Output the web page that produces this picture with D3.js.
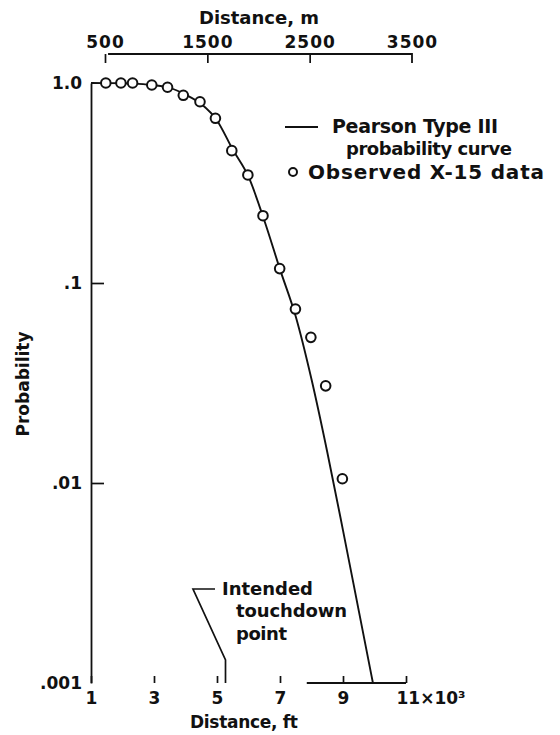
<!DOCTYPE html>
<html>
<head>
<meta charset="utf-8">
<script src="https://cdn.jsdelivr.net/npm/d3@7"></script>
<style>
  body { margin: 0; background: #fff; }
  svg text { font-family: "DejaVu Sans", sans-serif; font-weight: bold; fill: #111; }
</style>
</head>
<body>
<div id="chart"></div>
<script>
// observed X-15 touchdown data (distance in thousands of ft, probability)
const obsDistFt = [1.47, 1.95, 2.32, 2.93, 3.43, 3.93, 4.46, 4.95, 5.47, 5.98, 6.46, 6.99, 7.49, 7.98, 8.45, 8.98];
const obsProb = [1.0, 1.0, 1.0, 0.977, 0.952, 0.868, 0.806, 0.666, 0.459, 0.347, 0.217, 0.118, 0.0741, 0.0535, 0.0306, 0.0105];

// Pearson Type III curve
const curveDistFt = [1.0, 1.5, 2.0, 2.5, 3.0, 3.5, 4.0, 4.5, 5.0, 5.5, 6.0, 6.5, 7.0, 7.5, 8.0, 8.5, 9.0, 9.5, 9.95];
const curveProb = [1.0, 0.999, 0.997, 0.99, 0.975, 0.945, 0.875, 0.785, 0.65, 0.465, 0.34, 0.206, 0.117, 0.068, 0.033, 0.0143, 0.0058, 0.0023, 0.001];

const ftTicks = [1, 3, 5, 7, 9, 11];
const mTicks = [500, 1500, 2500, 3500];
const probTicks = [1, 0.1, 0.01, 0.001];
const probTickLabels = ["1.0", ".1", ".01", ".001"];
const touchdownFt = 5.27;

const width = 560, height = 735;

const svg = d3.select("#chart").append("svg")
  .attr("width", width)
  .attr("height", height);

const x = d3.scaleLinear().domain([1, 11]).range([91, 406]);
const xm = d3.scaleLinear().domain([500, 3500]).range([105, 412]);
const y = d3.scaleLog().domain([0.001, 1]).range([683, 83]);

const ink = "#111";

// label helper: only the letter spacing is stretched to the original's width
const label = (g, tx, ty, str, size, len) =>
  g.append("text").attr("x", tx).attr("y", ty).attr("font-size", size)
    .attr("textLength", len).attr("lengthAdjust", "spacing").text(str);

// bottom axis (ft)
const axisFt = svg.append("g")
  .attr("transform", `translate(0,${y(0.001)})`)
  .call(d3.axisBottom(x).tickValues(ftTicks).tickSizeInner(-7).tickSizeOuter(0).tickPadding(9)
    .tickFormat(d => d === 11 ? "11×10³" : d));
axisFt.select(".domain").remove();
axisFt.selectAll(".tick line").attr("stroke", ink).attr("stroke-width", 1.7);
axisFt.selectAll(".tick text").attr("font-size", 17).attr("fill", ink);
axisFt.selectAll(".tick text").filter(d => d === 11).attr("text-anchor", "start").attr("dx", -10);
// visible part of the baseline
axisFt.append("path")
  .attr("d", `M${x(7.85)},0H${x(11)}`)
  .attr("stroke", ink).attr("stroke-width", 1.8).attr("fill", "none");

// top axis (m)
const axisM = svg.append("g")
  .attr("transform", "translate(0,54)")
  .call(d3.axisTop(xm).tickValues(mTicks).tickSizeInner(-9).tickSizeOuter(-9).tickPadding(6)
    .tickFormat(d3.format("d")));
axisM.select(".domain").attr("stroke", ink).attr("stroke-width", 1.8)
  .attr("d", `M${xm(530)},0H${xm(3500)}V9`);
axisM.selectAll(".tick line").attr("stroke", ink).attr("stroke-width", 1.7)
  .filter(d => d === 3500).remove();
axisM.selectAll(".tick text").attr("font-size", 17).attr("fill", ink).attr("letter-spacing", 1);

// left axis (probability)
const axisP = svg.append("g")
  .attr("transform", `translate(${x(1)},0)`)
  .call(d3.axisLeft(y).tickValues(probTicks).tickSizeInner(-13).tickSizeOuter(0).tickPadding(9)
    .tickFormat((d, i) => probTickLabels[i]));
axisP.select(".domain").attr("stroke", ink).attr("stroke-width", 1.8);
axisP.selectAll(".tick line").attr("stroke", ink).attr("stroke-width", 1.7)
  .filter(d => d === 1 || d === 0.001).remove();
axisP.selectAll(".tick text").attr("font-size", 17).attr("fill", ink);

// axis titles
label(svg, 199, 24, "Distance, m", 18, 120);
label(svg, 190, 728, "Distance, ft", 17, 108);
svg.append("text").attr("transform", "translate(29,384) rotate(-90)")
  .attr("text-anchor", "middle").attr("font-size", 17).text("Probability");

// curve
const curveData = curveDistFt.map((d, i) => [d, curveProb[i]]);
svg.append("path")
  .datum(curveData)
  .attr("fill", "none")
  .attr("stroke", ink)
  .attr("stroke-width", 1.9)
  .attr("d", d3.line().x(d => x(d[0])).y(d => y(d[1])).curve(d3.curveMonotoneX));

// observed points
svg.selectAll("circle.obs")
  .data(obsDistFt.map((d, i) => [d, obsProb[i]]))
  .enter().append("circle")
  .attr("class", "obs")
  .attr("cx", d => x(d[0]))
  .attr("cy", d => y(d[1]))
  .attr("r", 4.8)
  .attr("fill", "#fff")
  .attr("stroke", ink)
  .attr("stroke-width", 2);

// legend
const legend = svg.append("g");
legend.append("line").attr("x1", 285).attr("x2", 318).attr("y1", 127).attr("y2", 127)
  .attr("stroke", ink).attr("stroke-width", 1.8);
label(legend, 332, 133, "Pearson Type III", 19, 166);
label(legend, 346, 155, "probability curve", 18, 166);
legend.append("circle").attr("cx", 293).attr("cy", 172).attr("r", 4)
  .attr("fill", "#fff").attr("stroke", ink).attr("stroke-width", 2);
label(legend, 308, 179, "Observed X-15 data", 20, 236);

// intended touchdown point annotation
const tx = x(touchdownFt);
svg.append("path")
  .attr("d", `M215,589H193L${tx},660V${y(0.001)}`)
  .attr("fill", "none").attr("stroke", ink).attr("stroke-width", 1.7);
label(svg, 222, 595, "Intended", 18, 91);
label(svg, 236, 617, "touchdown", 18, 111);
label(svg, 236, 640, "point", 18, 51);
</script>
</body>
</html>
